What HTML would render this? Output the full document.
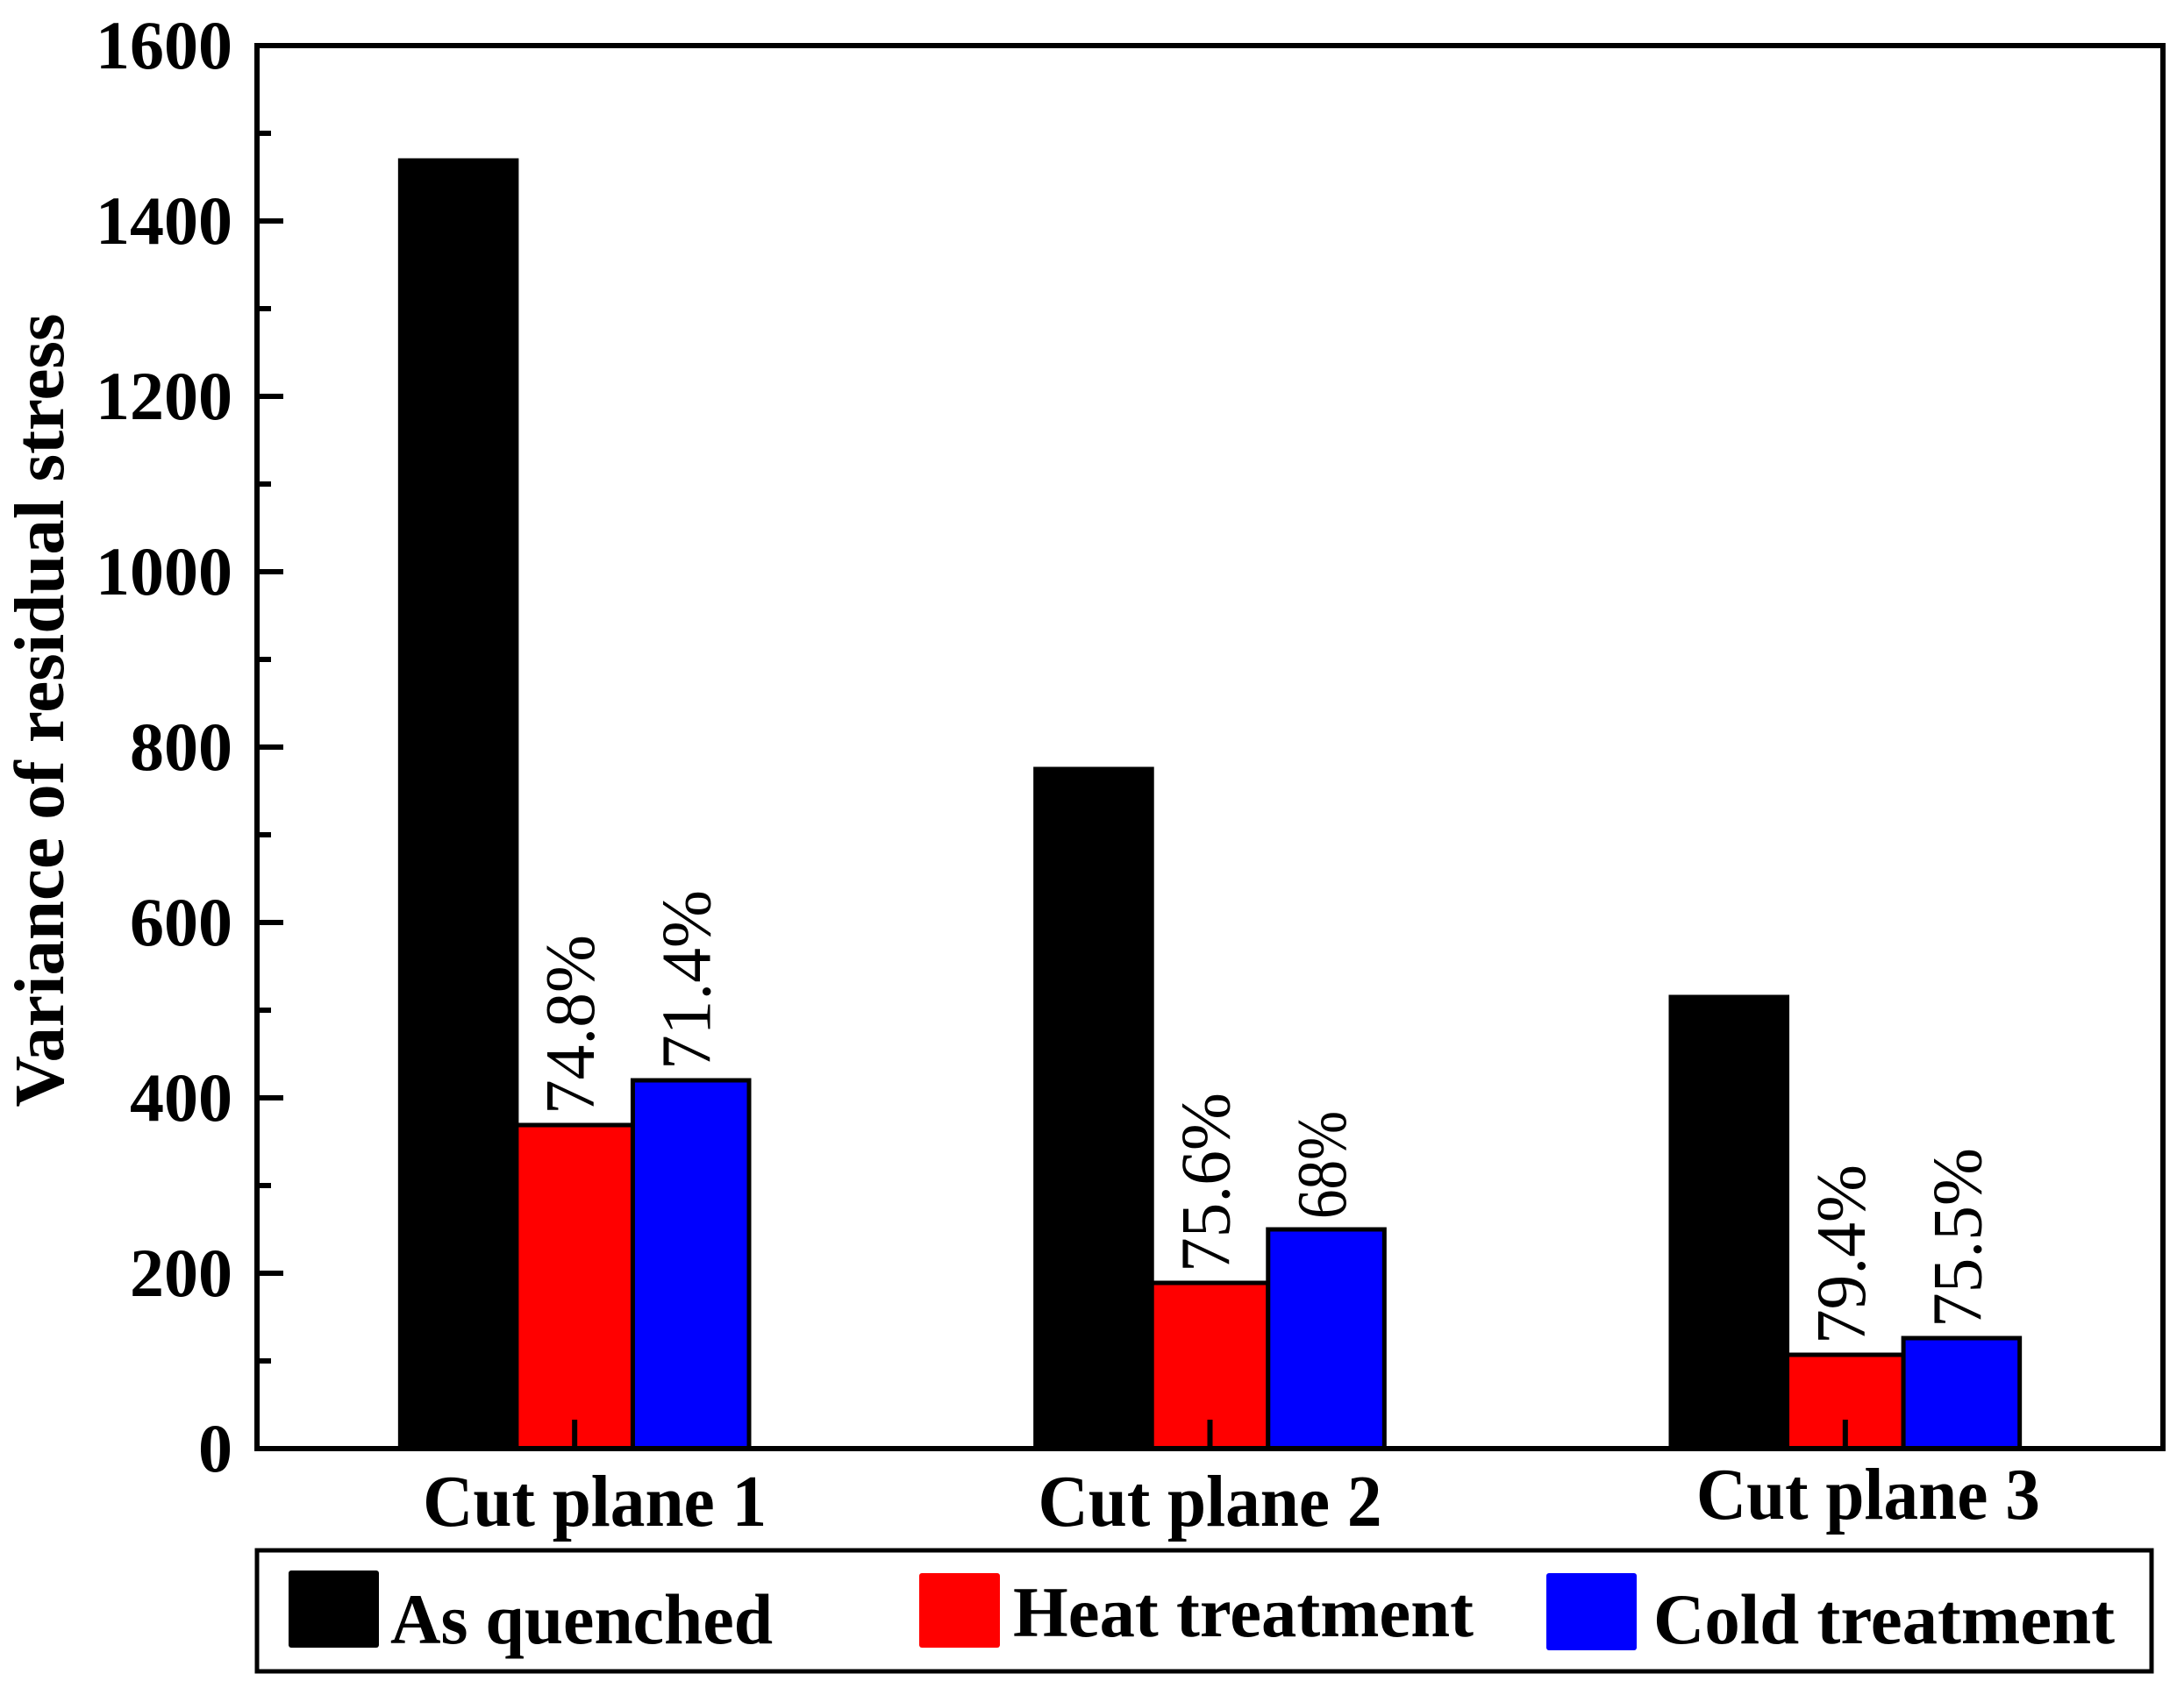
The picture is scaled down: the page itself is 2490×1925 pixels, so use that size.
<!DOCTYPE html>
<html><head><meta charset="utf-8"><style>
html,body{margin:0;padding:0;background:#fff;}
svg{display:block;}
text{font-family:"Liberation Serif","Times New Roman",serif;}
</style></head><body>
<svg id="chart" width="2490" height="1925" viewBox="0 0 2490 1925" xmlns="http://www.w3.org/2000/svg" font-family="Liberation Serif, serif">
<rect x="0" y="0" width="2490" height="1925" fill="#fff"/>
<g id="bars"></g>
<g id="labels"></g>
<rect x="293" y="52" width="2173" height="1600" fill="none" stroke="#000" stroke-width="6"/>
<g id="yaxis"></g>
<g id="xaxis"></g>
<text transform="translate(72,810) rotate(-90)" text-anchor="middle" font-size="80" font-weight="bold" textLength="905" lengthAdjust="spacingAndGlyphs">Variance of residual stress</text>
<g>
<rect x="293" y="1768" width="2160" height="138" fill="none" stroke="#000" stroke-width="5"/>
<rect x="329" y="1791" width="103" height="88" fill="#000" rx="3"/>
<text x="445" y="1874" font-size="82" font-weight="bold" textLength="436" lengthAdjust="spacingAndGlyphs">As quenched</text>
<rect x="1048" y="1794" width="92" height="85" fill="#ff0000" rx="3"/>
<text x="1155" y="1866" font-size="82" font-weight="bold" textLength="525" lengthAdjust="spacingAndGlyphs">Heat treatment</text>
<rect x="1763" y="1794" width="103" height="88" fill="#0000ff" rx="3"/>
<text x="1885" y="1874" font-size="82" font-weight="bold" textLength="526" lengthAdjust="spacingAndGlyphs">Cold treatment</text>
</g>
</svg>
<script>
const categories = ["Cut plane 1", "Cut plane 2", "Cut plane 3"];
const asQuenched = [1469, 775, 515];
const heatTreatment = [369, 189, 107];
const coldTreatment = [420, 250, 126];
const heatPct = ["74.8%", "75.6%", "79.4%"];
const coldPct = ["71.4%", "68%", "75.5%"];
const yTicks = [0, 200, 400, 600, 800, 1000, 1200, 1400, 1600];

const NS = "http://www.w3.org/2000/svg";
const L = 293, R = 2466, T = 52, B = 1652;
function yS(v){ return B - (v/1600)*(B-T); }
function xS(c){ return L + (c + 0.5) / 3 * (R - L); }
const bw = 0.183 * (R - L) / 3;

function mk(tag, attrs, parent){
  const e = document.createElementNS(NS, tag);
  for (const k in attrs) e.setAttribute(k, attrs[k]);
  parent.appendChild(e);
  return e;
}
const gb = document.getElementById('bars');
const gl = document.getElementById('labels');
const series = [
  {vals: asQuenched, color: "#000", off: -1, name: "as-quenched"},
  {vals: heatTreatment, color: "#ff0000", off: 0, name: "heat-treatment"},
  {vals: coldTreatment, color: "#0000ff", off: 1, name: "cold-treatment"}
];
series.forEach(s => {
  s.vals.forEach((v, i) => {
    const cx = xS(i) + s.off * bw;
    const r = mk('rect', {x: cx - bw/2, y: yS(v), width: bw, height: yS(0) - yS(v), fill: s.color, stroke: "#000", "stroke-width": 5}, gb);
    
    
  });
});
[[heatTreatment, heatPct, 0], [coldTreatment, coldPct, 1]].forEach(([vals, pcts, off]) => {
  vals.forEach((v, i) => {
    const cx = xS(i) + off * bw + 22;
    const y0 = yS(v) - 12;
    const len = pcts[i].length * 41;
    const t = mk('text', {transform: `translate(${cx},${y0}) rotate(-90)`, "font-size": 80, "font-family": "Liberation Serif, serif", textLength: len, lengthAdjust: "spacingAndGlyphs"}, gl);
    t.textContent = pcts[i];
    
    
  });
});
const gy = document.getElementById('yaxis');
yTicks.forEach(v => {
  const ln = mk('line', {x1: L, x2: L + 30, y1: yS(v), y2: yS(v), stroke: "#000", "stroke-width": 6}, gy);
  
  
  const t = mk('text', {x: 265, y: yS(v) + 26, "text-anchor": "end", "font-size": 78, "font-weight": "bold"}, gy);
  t.textContent = v;
  
  
  if (v < 1600) {
    const m = mk('line', {x1: L, x2: L + 16, y1: yS(v + 100), y2: yS(v + 100), stroke: "#000", "stroke-width": 6}, gy);
    
    
  }
});
const gx = document.getElementById('xaxis');
const catY = [1740, 1740, 1732];
const catDx = [23, 0, 26];
categories.forEach((c, i) => {
  const ln = mk('line', {x1: xS(i), x2: xS(i), y1: B, y2: B - 33, stroke: "#000", "stroke-width": 6}, gx);
  
  
  const t = mk('text', {x: xS(i) + catDx[i], y: catY[i], "text-anchor": "middle", "font-size": 84, "font-weight": "bold", textLength: 392, lengthAdjust: "spacingAndGlyphs"}, gx);
  t.textContent = c;
  
  
});
</script>
</body></html>
